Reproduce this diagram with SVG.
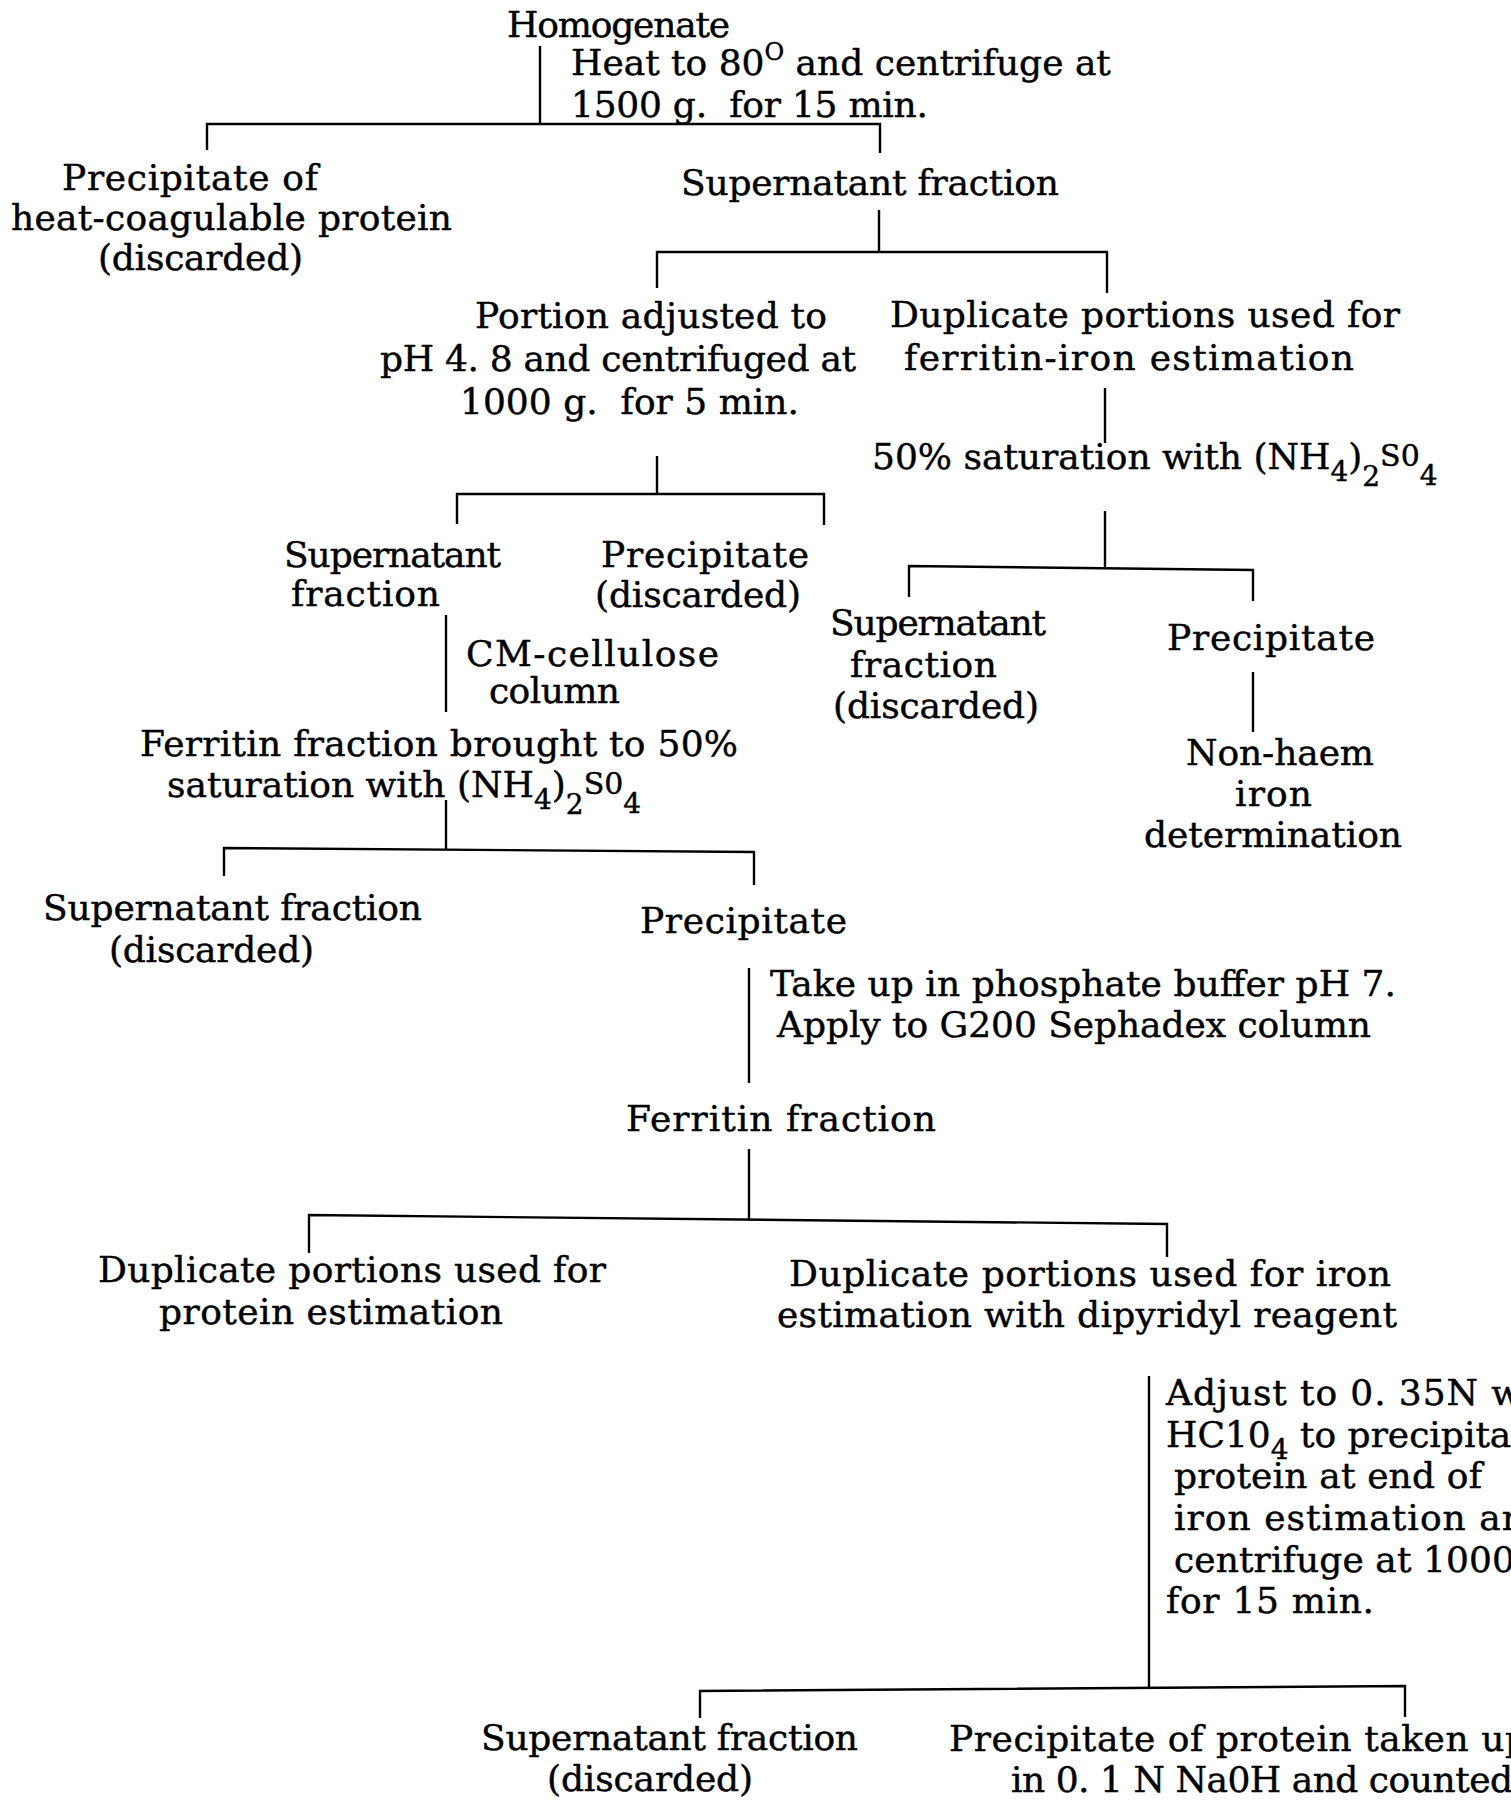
<svg xmlns="http://www.w3.org/2000/svg" width="1511" height="1802" viewBox="0 0 1511 1802">
<style>
text { font-family: "DejaVu Serif", "Liberation Serif", serif; font-size: 36px; fill: #000; stroke: #000; stroke-width: 0.45px; white-space: pre; }
.sub { font-size: 28px; }
.sup { font-size: 24px; }
.s0 { font-size: 30px; }
.c path { stroke: #000; stroke-width: 2.4; fill: none; }
</style>
<rect width="1511" height="1802" fill="#fff"/>
<g id="connectors" class="c">
<path d="M540,46 V124"/>
<path d="M207,150 V124 H880 V153"/>
<path d="M879,210 V252"/>
<path d="M657,288 V252 H1107 V293"/>
<path d="M1105,388 V443"/>
<path d="M657,456 V494"/>
<path d="M457,524 V494 H824 V525"/>
<path d="M1105,511 V567"/>
<path d="M909,597 V566 L1253,570 V601"/>
<path d="M1253,672 V732"/>
<path d="M446,615 V712"/>
<path d="M446,800 V849"/>
<path d="M224,876 V848 L754,852 V885"/>
<path d="M749,968 V1083"/>
<path d="M749,1149 V1219"/>
<path d="M309,1253 V1215 L1167,1224 V1257"/>
<path d="M1149,1376 V1688"/>
<path d="M700,1718 V1691 L1405,1686 V1717"/>
</g>
<g id="homogenate"><text x="507" y="37" textLength="223" lengthAdjust="spacing">Homogenate</text></g>
<g id="step-heat">
<text x="571" y="75">Heat to 80<tspan class="sup" dy="-15">O</tspan><tspan dy="15"> and centrifuge at</tspan></text>
<text x="571" y="117" textLength="357" lengthAdjust="spacing">1500 g.  for 15 min.</text>
</g>
<g id="precipitate-heat">
<text x="62" y="190" textLength="256" lengthAdjust="spacing">Precipitate of</text>
<text x="11" y="230" textLength="441" lengthAdjust="spacing">heat-coagulable protein</text>
<text x="98" y="270" textLength="205" lengthAdjust="spacing">(discarded)</text>
</g>
<g id="supernatant-1"><text x="681" y="195" textLength="378" lengthAdjust="spacing">Supernatant fraction</text></g>
<g id="portion-ph">
<text x="475" y="328" textLength="352" lengthAdjust="spacing">Portion adjusted to</text>
<text x="380" y="371" textLength="476" lengthAdjust="spacing">pH 4. 8 and centrifuged at</text>
<text x="460" y="414" textLength="339" lengthAdjust="spacing">1000 g.  for 5 min.</text>
</g>
<g id="duplicate-ferritin-iron">
<text x="890" y="327" textLength="510" lengthAdjust="spacing">Duplicate portions used for</text>
<text x="904" y="370" textLength="450" lengthAdjust="spacing">ferritin-iron estimation</text>
</g>
<g id="step-50-saturation">
<text x="872" y="469">50% saturation with (NH<tspan class="sub" dy="12">4</tspan><tspan dy="-12">)</tspan><tspan class="sub" dy="17">2</tspan><tspan class="s0" dy="-20">S0</tspan><tspan class="sub" dy="19">4</tspan></text>
</g>
<g id="supernatant-2">
<text x="284" y="567" textLength="217" lengthAdjust="spacing">Supernatant</text>
<text x="291" y="606" textLength="149" lengthAdjust="spacing">fraction</text>
</g>
<g id="precipitate-2">
<text x="601" y="567" textLength="208" lengthAdjust="spacing">Precipitate</text>
<text x="595" y="607" textLength="206" lengthAdjust="spacing">(discarded)</text>
</g>
<g id="step-cm-cellulose">
<text x="466" y="666" textLength="253" lengthAdjust="spacing">CM-cellulose</text>
<text x="489" y="703" textLength="131" lengthAdjust="spacing">column</text>
</g>
<g id="ferritin-fraction-50">
<text x="140" y="756" textLength="598" lengthAdjust="spacing">Ferritin fraction brought to 50%</text>
<text x="167" y="797">saturation with (NH<tspan class="sub" dy="12">4</tspan><tspan dy="-12">)</tspan><tspan class="sub" dy="17">2</tspan><tspan class="s0" dy="-20">S0</tspan><tspan class="sub" dy="19">4</tspan></text>
</g>
<g id="supernatant-3">
<text x="830" y="635" textLength="216" lengthAdjust="spacing">Supernatant</text>
<text x="850" y="677" textLength="147" lengthAdjust="spacing">fraction</text>
<text x="833" y="718" textLength="206" lengthAdjust="spacing">(discarded)</text>
</g>
<g id="precipitate-3"><text x="1167" y="650" textLength="208" lengthAdjust="spacing">Precipitate</text></g>
<g id="non-haem-iron">
<text x="1186" y="765" textLength="188" lengthAdjust="spacing">Non-haem</text>
<text x="1235" y="806" textLength="77" lengthAdjust="spacing">iron</text>
<text x="1144" y="847" textLength="258" lengthAdjust="spacing">determination</text>
</g>
<g id="supernatant-4">
<text x="43" y="920" textLength="379" lengthAdjust="spacing">Supernatant fraction</text>
<text x="109" y="962" textLength="205" lengthAdjust="spacing">(discarded)</text>
</g>
<g id="precipitate-4"><text x="640" y="933" textLength="207" lengthAdjust="spacing">Precipitate</text></g>
<g id="step-sephadex">
<text x="770" y="996" textLength="626" lengthAdjust="spacing">Take up in phosphate buffer pH 7.</text>
<text x="777" y="1037" textLength="594" lengthAdjust="spacing">Apply to G200 Sephadex column</text>
</g>
<g id="ferritin-fraction"><text x="626" y="1131" textLength="310" lengthAdjust="spacing">Ferritin fraction</text></g>
<g id="duplicate-protein">
<text x="98" y="1282" textLength="508" lengthAdjust="spacing">Duplicate portions used for</text>
<text x="159" y="1324" textLength="344" lengthAdjust="spacing">protein estimation</text>
</g>
<g id="duplicate-iron">
<text x="789" y="1286" textLength="602" lengthAdjust="spacing">Duplicate portions used for iron</text>
<text x="777" y="1327" textLength="620" lengthAdjust="spacing">estimation with dipyridyl reagent</text>
</g>
<g id="step-hclo4">
<text x="1166" y="1405" textLength="356" lengthAdjust="spacing">Adjust to 0. 35N w</text>
<text x="1166" y="1447">HC10<tspan class="sub" dy="12">4</tspan><tspan dy="-12"> to precipita</tspan></text>
<text x="1174" y="1488" textLength="308" lengthAdjust="spacing">protein at end of</text>
<text x="1174" y="1530" textLength="351" lengthAdjust="spacing">iron estimation an</text>
<text x="1174" y="1572" textLength="341" lengthAdjust="spacing">centrifuge at 1000</text>
<text x="1166" y="1613" textLength="208" lengthAdjust="spacing">for 15 min.</text>
</g>
<g id="supernatant-5">
<text x="481" y="1750" textLength="377" lengthAdjust="spacing">Supernatant fraction</text>
<text x="547" y="1791" textLength="206" lengthAdjust="spacing">(discarded)</text>
</g>
<g id="precipitate-protein">
<text x="949" y="1751" textLength="579" lengthAdjust="spacing">Precipitate of protein taken up</text>
<text x="1011" y="1792" textLength="502" lengthAdjust="spacing">in 0. 1 N Na0H and counted</text>
</g>
</svg>
